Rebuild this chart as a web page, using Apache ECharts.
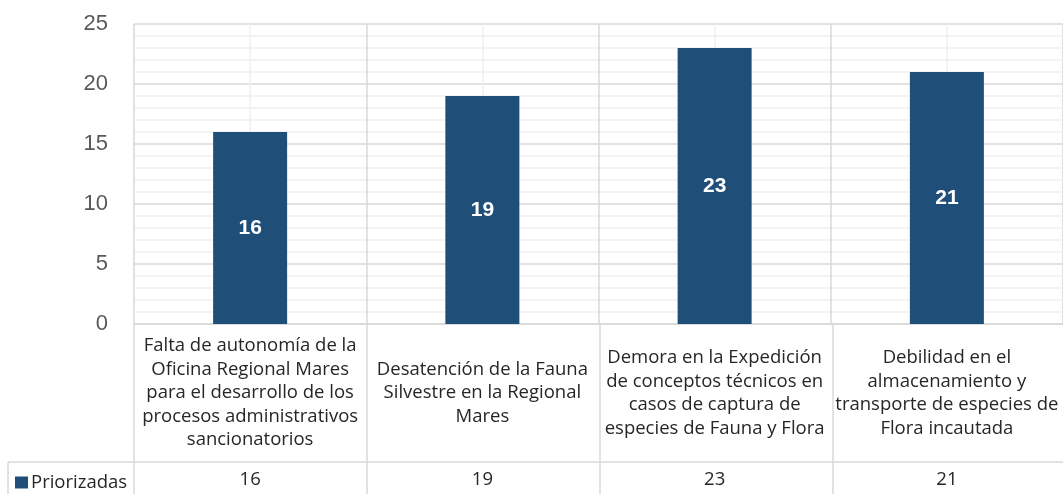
<!DOCTYPE html>
<html>
<head>
<meta charset="utf-8">
<script src="https://cdn.jsdelivr.net/npm/echarts@6/dist/echarts.min.js"></script>
<style>
  html, body { margin: 0; padding: 0; background: #ffffff; }
  #chart { width: 1063px; height: 494px; }
</style>
</head>
<body>
<div id="chart"></div>
<script>
// Problem categories (wrapped as shown in the data table)
const categories = [
  'Falta de autonomía de la\nOficina Regional Mares\npara el desarrollo de los\nprocesos administrativos\nsancionatorios',
  'Desatención de la Fauna\nSilvestre en la Regional\nMares',
  'Demora en la Expedición\nde conceptos técnicos en\ncasos de captura de\nespecies de Fauna y Flora',
  'Debilidad en el\nalmacenamiento y\ntransporte de especies de\nFlora incautada'
];
const seriesName = 'Priorizadas';
const priorizadas = [16, 19, 23, 21];
const yTicks = [0, 5, 10, 15, 20, 25];

// Layout of the plot and the data table beneath it
const G = { left: 134, top: 24, width: 932, height: 300 };
const TABLE_LEFT = 8;
const LABEL_ROW_H = 138;
const VALUE_ROW_H = 40;
const LINE = '#d9d9d9';
const MINOR = '#efefef';
const catFont = '"Open Sans", "Noto Sans", sans-serif';
const catSize = 18.5;

const chart = echarts.init(document.getElementById('chart'), null, { renderer: 'canvas' });

const plotBottom = G.top + G.height;
const rowTop = plotBottom + LABEL_ROW_H;
const catW = G.width / categories.length;

// table borders
const tableLines = [];
const seg = (x1, y1, x2, y2) => tableLines.push({
  type: 'line', silent: true, z: 5,
  shape: { x1, y1, x2, y2 },
  style: { stroke: LINE, lineWidth: 1.5 }
});
seg(TABLE_LEFT, rowTop, G.left + G.width, rowTop);
seg(TABLE_LEFT, rowTop, TABLE_LEFT, rowTop + VALUE_ROW_H);
seg(G.left, plotBottom, G.left, rowTop + VALUE_ROW_H);
for (let i = 1; i < categories.length; i++) {
  const x = G.left + catW * i;
  seg(x, plotBottom, x, rowTop + VALUE_ROW_H);
}

chart.setOption({
  animation: false,
  backgroundColor: '#ffffff',
  grid: { left: G.left, top: G.top, width: G.width, height: G.height, containLabel: false },
  legend: {
    data: [{ name: seriesName, icon: 'rect' }],
    left: 10, top: 468,
    itemWidth: 13, itemHeight: 12, itemGap: 4,
    textStyle: { fontFamily: catFont, fontSize: catSize, color: '#262626', padding: [0, 0, 0, -2] }
  },
  xAxis: [
    {
      type: 'category',
      data: categories,
      position: 'bottom',
      axisLine: { show: true, lineStyle: { color: LINE, width: 1.5 } },
      axisTick: { show: false },
      splitLine: { show: true, lineStyle: { color: LINE, width: 1.5 } },
      axisLabel: {
        interval: 0,
        margin: LABEL_ROW_H / 2,
        verticalAlign: 'middle',
        align: 'center',
        fontFamily: catFont,
        fontSize: catSize,
        lineHeight: 23.5,
        color: '#262626'
      },
      z: 3
    },
    {
      // centre guide lines of each category column
      type: 'value',
      min: 0, max: categories.length * 2, interval: 1,
      show: true,
      position: 'top',
      axisLine: { show: false },
      axisTick: { show: false },
      axisLabel: { show: false },
      splitLine: { show: true, lineStyle: { color: ['rgba(0,0,0,0)', MINOR], width: 1.5 } },
      z: 1
    },
    {
      // value row of the data table
      type: 'category',
      data: priorizadas.map(String),
      position: 'bottom',
      offset: LABEL_ROW_H + VALUE_ROW_H / 2 - 2,
      axisLine: { show: false },
      axisTick: { show: false },
      splitLine: { show: false },
      axisLabel: {
        interval: 0, margin: 0, verticalAlign: 'middle',
        fontFamily: catFont, fontSize: catSize, color: '#262626'
      }
    }
  ],
  yAxis: {
    type: 'value',
    min: yTicks[0], max: yTicks[yTicks.length - 1], interval: 5,
    axisLine: { show: false },
    axisTick: { show: false },
    axisLabel: {
      margin: 26,
      fontFamily: '"Liberation Sans", Arial, sans-serif',
      fontSize: 22,
      color: '#595959',
      formatter: v => yTicks.includes(v) ? String(v) : ''
    },
    splitLine: { show: true, lineStyle: { color: LINE, width: 1.5 } },
    minorTick: { show: false, splitNumber: 5 },
    minorSplitLine: { show: true, lineStyle: { color: MINOR, width: 1.5 } }
  },
  series: [{
    name: seriesName,
    type: 'bar',
    xAxisIndex: 0,
    data: priorizadas,
    barWidth: 74,
    itemStyle: { color: '#1f4e79' },
    label: {
      show: true,
      position: 'inside',
      color: '#ffffff',
      fontFamily: '"Liberation Sans", Arial, sans-serif',
      fontWeight: 'bold',
      fontSize: 21
    },
    z: 4
  }],
  graphic: tableLines
});
</script>
</body>
</html>
